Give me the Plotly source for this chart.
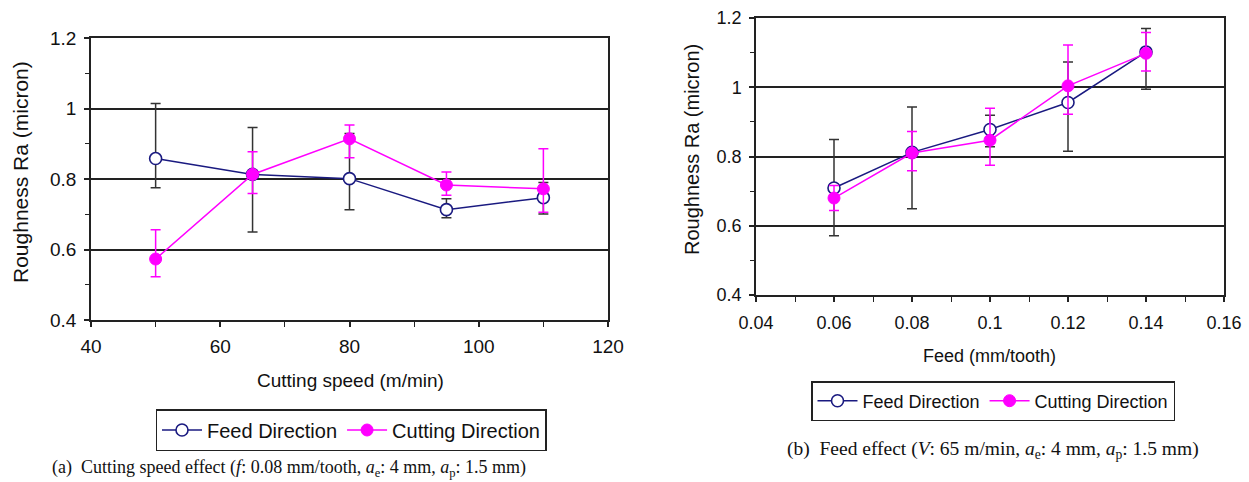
import plotly.graph_objects as go

# ---------------- data ----------------
speed = [50, 65, 80, 95, 110]
feed_dir_speed = [0.858, 0.813, 0.801, 0.713, 0.747]
feed_dir_speed_hi = [1.014, 0.946, 0.929, 0.744, 0.790]
feed_dir_speed_lo = [0.775, 0.650, 0.713, 0.690, 0.701]
cut_dir_speed = [0.573, 0.813, 0.914, 0.783, 0.772]
cut_dir_speed_hi = [0.656, 0.877, 0.953, 0.820, 0.886]
cut_dir_speed_lo = [0.523, 0.759, 0.860, 0.754, 0.706]

feed = [0.06, 0.08, 0.10, 0.12, 0.14]
feed_dir_feed = [0.709, 0.812, 0.878, 0.956, 1.102]
feed_dir_feed_hi = [0.849, 0.943, 0.919, 1.073, 1.170]
feed_dir_feed_lo = [0.571, 0.649, 0.828, 0.815, 0.994]
cut_dir_feed = [0.680, 0.810, 0.847, 1.004, 1.098]
cut_dir_feed_hi = [0.716, 0.872, 0.939, 1.122, 1.158]
cut_dir_feed_lo = [0.644, 0.759, 0.775, 0.922, 1.047]

series_names = ["Feed Direction", "Cutting Direction"]
y_title = "Roughness Ra (micron)"
x_title_a = "Cutting speed (m/min)"
x_title_b = "Feed (mm/tooth)"
caption_a = "(a)  Cutting speed effect (<i>f</i>: 0.08 mm/tooth, <i>a</i><sub>e</sub>: 4 mm, <i>a</i><sub>p</sub>: 1.5 mm)"
caption_b = "(b)  Feed effect (<i>V</i>: 65 m/min, <i>a</i><sub>e</sub>: 4 mm, <i>a</i><sub>p</sub>: 1.5 mm)"

NAVY = "#1a1a80"
MAG = "#ff00ff"
SANS = "Liberation Sans, Arial, sans-serif"
SERIF = "Liberation Serif, Times New Roman, serif"


def err(vals, hi, lo):
    return [h - v for h, v in zip(hi, vals)], [v - l for l, v in zip(lo, vals)]


fig = go.Figure()


def add_pair(x, fy, fhi, flo, cy, chi, clo, xa, ya, leg):
    up, dn = err(fy, fhi, flo)
    fig.add_trace(go.Scatter(
        x=x, y=fy, name=series_names[0], mode="lines+markers",
        line=dict(color=NAVY, width=1.5),
        marker=dict(symbol="circle", size=12, color="white", line=dict(color=NAVY, width=1.6)),
        error_y=dict(type="data", array=up, arrayminus=dn, color="#333333", thickness=1.5, width=5),
        xaxis=xa, yaxis=ya, legend=leg))
    up, dn = err(cy, chi, clo)
    fig.add_trace(go.Scatter(
        x=x, y=cy, name=series_names[1], mode="lines+markers",
        line=dict(color=MAG, width=1.5),
        marker=dict(symbol="circle", size=12, color=MAG, line=dict(color=MAG, width=1)),
        error_y=dict(type="data", array=up, arrayminus=dn, color=MAG, thickness=1.5, width=5),
        xaxis=xa, yaxis=ya, legend=leg))


add_pair(speed, feed_dir_speed, feed_dir_speed_hi, feed_dir_speed_lo,
         cut_dir_speed, cut_dir_speed_hi, cut_dir_speed_lo, "x", "y", "legend")
add_pair(feed, feed_dir_feed, feed_dir_feed_hi, feed_dir_feed_lo,
         cut_dir_feed, cut_dir_feed_hi, cut_dir_feed_lo, "x2", "y2", "legend2")

W, H = 1249, 482


def px_x(p):
    return p / W


def px_y(p):
    return 1 - p / H


axis_common = dict(showline=True, linecolor="#222222", linewidth=1.5, mirror=True,
                   ticks="outside", ticklen=5, tickwidth=1.5, tickcolor="#222222",
                   zeroline=False, automargin=False)

yaxis_common = dict(axis_common, range=[0.4, 1.2], dtick=0.2, tick0=0.4,
                    showgrid=True, gridcolor="#222222", gridwidth=1.5,
                    minor=dict(dtick=0.1, ticks="outside", ticklen=4, tickwidth=1.2,
                               tickcolor="#222222", showgrid=False),
                    ticklabelstandoff=4)

fig.update_layout(
    template="none",
    width=W, height=H, margin=dict(l=0, r=0, t=0, b=0, autoexpand=False),
    paper_bgcolor="white", plot_bgcolor="white",
    font=dict(family=SANS, color="#111111"),
    showlegend=True,
    xaxis=dict(axis_common, domain=[px_x(91), px_x(608)], range=[40, 120], dtick=20, tick0=40,
               showgrid=False, tickfont=dict(size=19),
               minor=dict(dtick=10, ticks="outside", ticklen=5, tickwidth=1.2, tickcolor="#222222"),
               ticklabelstandoff=3),
    yaxis=dict(yaxis_common, domain=[px_y(320), px_y(38)], tickfont=dict(size=19),
               tickformat="~g"),
    xaxis2=dict(axis_common, domain=[px_x(756), px_x(1224)], range=[0.04, 0.16], dtick=0.02,
                tick0=0.04, showgrid=False, tickfont=dict(size=18), anchor="y2",
                minor=dict(dtick=0.01, ticks="outside", ticklen=5, tickwidth=1.2, tickcolor="#222222"),
                tickformat="~g", ticklabelstandoff=6),
    yaxis2=dict(yaxis_common, domain=[px_y(295), px_y(18)], tickfont=dict(size=18), anchor="x2",
                tickformat="~g"),
    legend=dict(orientation="h", x=px_x(351), xanchor="center", y=px_y(409), yanchor="top",
                bordercolor="#222222", borderwidth=1.5, bgcolor="white",
                font=dict(size=20, family=SANS), itemwidth=40, tracegroupgap=0),
    legend2=dict(orientation="h", x=px_x(993), xanchor="center", y=px_y(381), yanchor="top",
                 bordercolor="#222222", borderwidth=1.5, bgcolor="white",
                 font=dict(size=18, family=SANS), itemwidth=40, tracegroupgap=0),
)

annotations = [
    dict(text=y_title, x=px_x(20), y=px_y(172), textangle=-90, font=dict(size=21)),
    dict(text=y_title, x=px_x(692), y=px_y(150), textangle=-90, font=dict(size=20)),
    dict(text=x_title_a, x=px_x(350), y=px_y(380), font=dict(size=19)),
    dict(text=x_title_b, x=px_x(989), y=px_y(356), font=dict(size=18)),
    dict(text=caption_a, x=px_x(289), y=px_y(468), font=dict(size=18, family=SERIF)),
    dict(text=caption_b, x=px_x(993), y=px_y(450), font=dict(size=19.5, family=SERIF)),
]
for a in annotations:
    fig.add_annotation(xref="paper", yref="paper", showarrow=False,
                       xanchor="center", yanchor="middle", **a)

fig.write_html("out.html")
